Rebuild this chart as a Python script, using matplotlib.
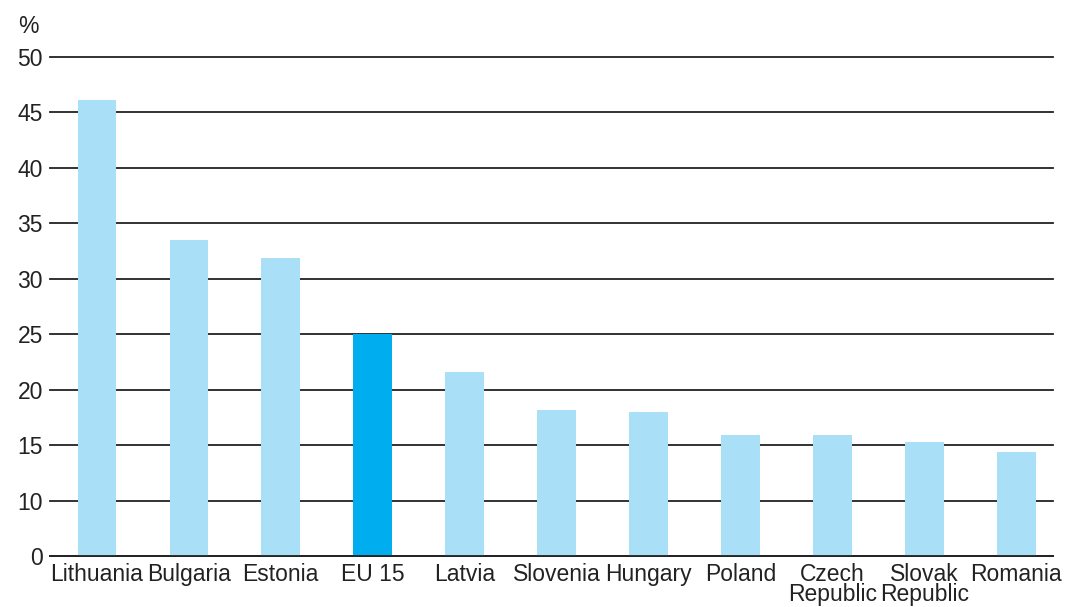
import matplotlib.pyplot as plt

plt.rcParams['font.family'] = ['Liberation Sans', 'DejaVu Sans']

# дані з графіка (вісь знизу обрізана: лінія "0" стоїть на рівні 5)
countries = ["Lithuania", "Bulgaria", "Estonia", "EU 15", "Latvia", "Slovenia",
             "Hungary", "Poland", "Czech\nRepublic", "Slovak\nRepublic", "Romania"]
values = [46.1, 33.5, 31.9, 25.0, 21.6, 18.2, 18.0, 15.9, 15.9, 15.3, 14.4]
highlight = "EU 15"
yticks = [5, 10, 15, 20, 25, 30, 35, 40, 45, 50]
ytick_labels = ["0", "10", "15", "20", "25", "30", "35", "40", "45", "50"]

light = "#aadff8"
dark = "#00aeef"
colors = [dark if c == highlight else light for c in countries]

fig = plt.figure(figsize=(10.78, 6.07), dpi=100)
ax = fig.add_axes([0.0464, 0.084, 0.9304, 0.822])

x = range(len(countries))
ax.bar(x, values, width=0.42, color=colors, zorder=3)

ax.set_ylim(5, 50)
ax.set_xlim(-0.51, 10.4)
ax.set_yticks(yticks)
ax.set_yticklabels(ytick_labels)
ax.set_xticks(list(x))
ax.set_xticklabels(countries, linespacing=0.85)
ax.tick_params(axis="both", length=0, labelsize=16.5, colors="#222222")
ax.tick_params(axis="y", pad=5)
ax.tick_params(axis="x", pad=5)

ax.grid(axis="y", color="#222222", linewidth=1.3, zorder=1)
for gl in ax.get_ygridlines():
    gl.set_clip_on(False)
for s in ["top", "right", "left"]:
    ax.spines[s].set_visible(False)
ax.spines["bottom"].set_color("#222222")
ax.spines["bottom"].set_linewidth(1.3)
ax.spines["bottom"].set_zorder(4)

fig.text(0.017, 0.957, "%", fontsize=16.5, color="#222222", va="center")

fig.savefig("out.png", dpi=100)
